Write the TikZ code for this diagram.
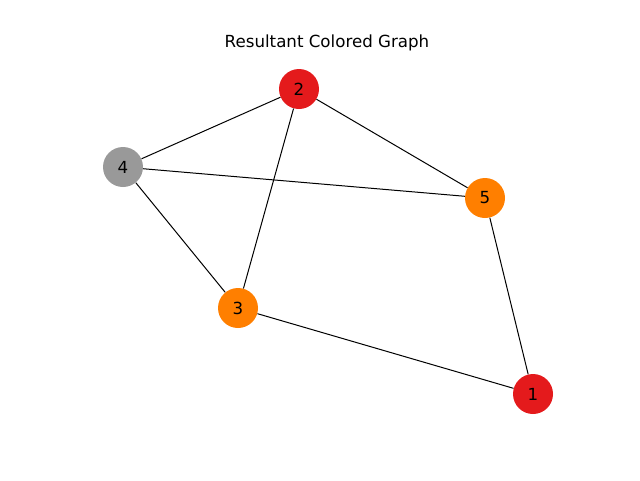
\documentclass[tikz,border=0pt]{standalone}
\usepackage{fontspec}
\setmainfont{DejaVu Sans}
\begin{document}
\begin{tikzpicture}[x=0.75pt,y=-0.75pt,
  vertex/.style={circle,minimum size=30pt,inner sep=0pt,font=\fontsize{12.5}{14}\selectfont},
  edge/.style={black,line width=0.75pt}]
\definecolor{cred}{HTML}{E41A1C}
\definecolor{corange}{HTML}{FF7F00}
\definecolor{cgray}{HTML}{999999}
\useasboundingbox (0,0) rectangle (640,480);
\node[font=\fontsize{12.5}{14}\selectfont] (title) at (327,43) {Resultant Colored Graph};
\node[vertex,fill=cred]    (n2) at (299,89)  {2};
\node[vertex,fill=cgray]   (n4) at (123,167) {4};
\node[vertex,fill=corange] (n5) at (485,198) {5};
\node[vertex,fill=corange] (n3) at (238,308) {3};
\node[vertex,fill=cred]    (n1) at (533,394) {1};
\begin{scope}[on background layer/.try]
\end{scope}
\draw[edge] (n2) -- (n4);
\draw[edge] (n2) -- (n5);
\draw[edge] (n2) -- (n3);
\draw[edge] (n4) -- (n5);
\draw[edge] (n4) -- (n3);
\draw[edge] (n5) -- (n1);
\draw[edge] (n3) -- (n1);
\end{tikzpicture}
\end{document}
